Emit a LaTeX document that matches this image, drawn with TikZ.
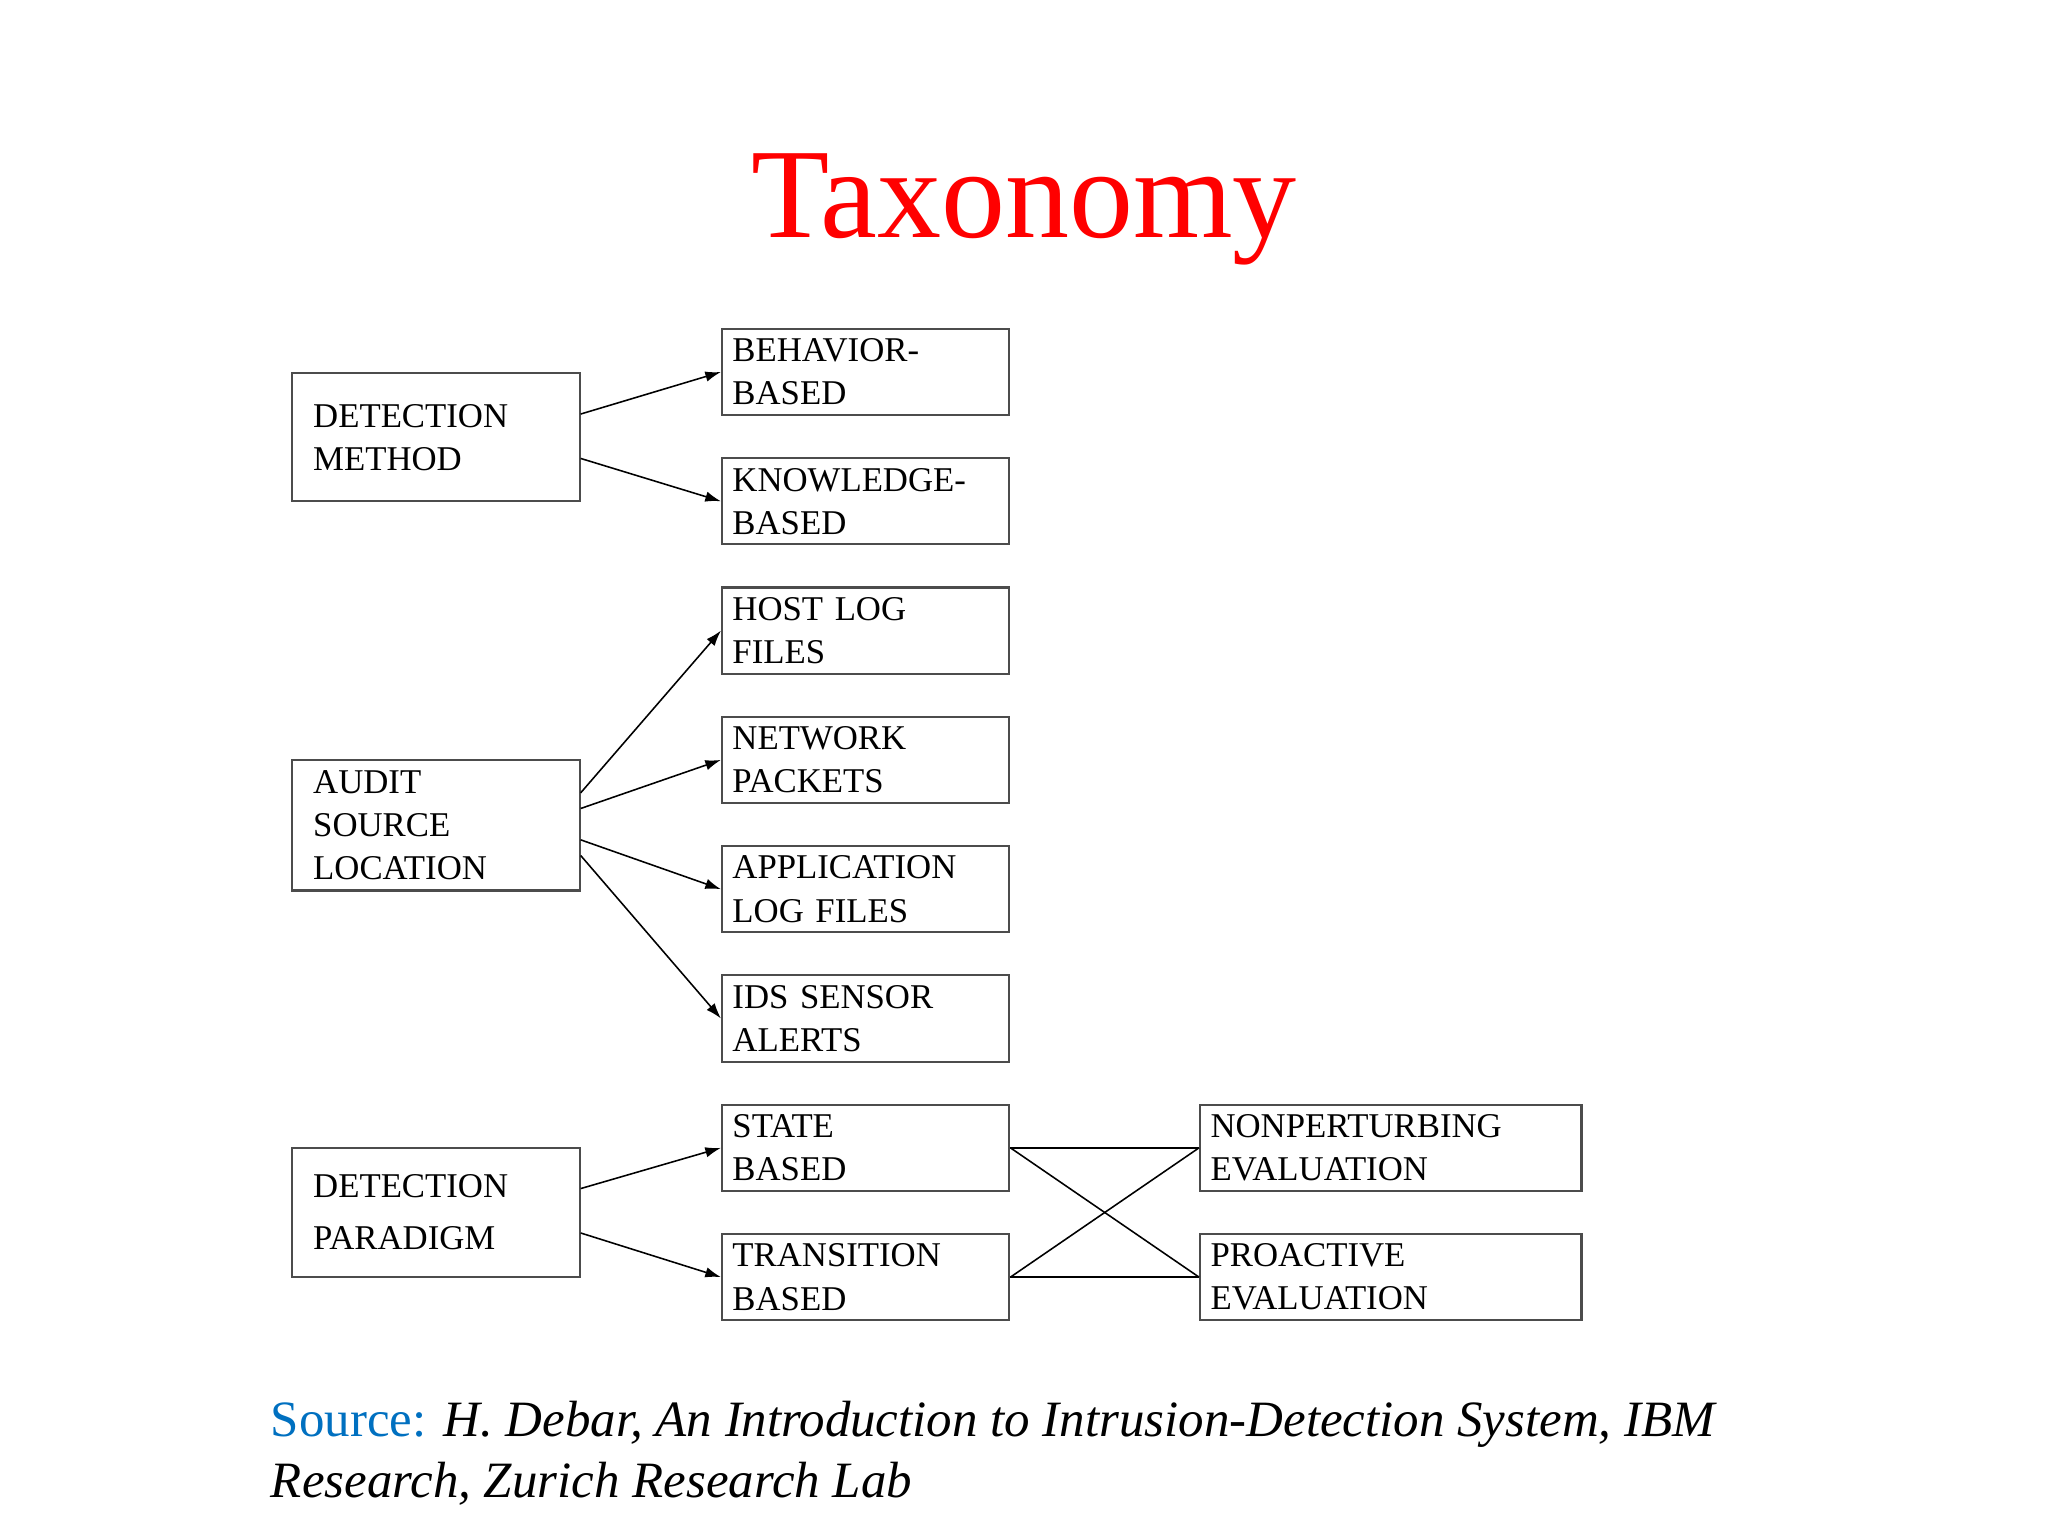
\documentclass[tikz,border=0pt]{standalone}
\usepackage{fontspec}
\setmainfont{Liberation Serif}
\usetikzlibrary{calc,arrows.meta}
\begin{document}
\begin{tikzpicture}[x=0.5pt,y=-0.5pt,
  box/.style={draw=black!70,line width=0.8pt,anchor=north west,inner sep=0pt,align=left,font=\fontsize{13.3}{16.5}\selectfont},
  arr/.style={-{Latex[length=6pt,width=4pt]},line width=0.6pt},
  ln/.style={line width=0.6pt}]
\useasboundingbox[fill=white] (0,0) rectangle (1568,1176);
\node[font=\fontsize{49}{56}\selectfont,text=red] (title) at (784,160) {Taxonomy};
% left boxes
\node[box,minimum width=110pt,minimum height=49pt,text width=94pt] (dm) at (223,285) {DETECTION\\METHOD};
\node[box,minimum width=110pt,minimum height=50pt,text width=94pt] (as) at (223,581) {AUDIT\\SOURCE\\LOCATION};
\node[box,minimum width=110pt,minimum height=49.5pt,text width=94pt,font=\fontsize{13.3}{20}\selectfont] (dp) at (223,878) {DETECTION\\PARADIGM};
% middle boxes
\foreach \n/\y/\a/\b in {beh/251/BEHAVIOR-/BASED, kno/350/KNOWLEDGE-/BASED, host/449/HOST LOG/FILES, net/548/NETWORK/PACKETS, app/647/APPLICATION/LOG FILES, ids/746/IDS SENSOR/ALERTS, st/845/STATE/BASED, tr/944/TRANSITION/BASED}
  \node[box,minimum width=110pt,minimum height=33pt,text width=106pt] (\n) at (552,\y) {\hspace*{2pt}\a\\\hspace*{2pt}\b};
\node[box,minimum width=146pt,minimum height=33pt,text width=142pt] (np) at (918,845) {\hspace*{2pt}NONPERTURBING\\\hspace*{2pt}EVALUATION};
\node[box,minimum width=146pt,minimum height=33pt,text width=142pt] (pr) at (918,944) {\hspace*{2pt}PROACTIVE\\\hspace*{2pt}EVALUATION};
% arrows
\draw[arr] ($(dm.north east)+(0,32)$) -- (beh.west);
\draw[arr] ($(dm.north east)+(0,66)$) -- (kno.west);
\draw[arr] ($(as.north east)+(0,26)$) -- (host.west);
\draw[arr] ($(as.north east)+(0,38)$) -- (net.west);
\draw[arr] ($(as.north east)+(0,62)$) -- (app.west);
\draw[arr] ($(as.north east)+(0,74)$) -- (ids.west);
\draw[arr] ($(dp.north east)+(0,32)$) -- (st.west);
\draw[arr] ($(dp.north east)+(0,66)$) -- (tr.west);
\draw[ln] (st.east) -- (np.west);
\draw[ln] (st.east) -- (pr.west);
\draw[ln] (tr.east) -- (pr.west);
\draw[ln] (tr.east) -- (np.west);
% source
\node[anchor=north west,align=left,inner sep=0pt,font=\fontsize{19.5}{23.5}\selectfont] (src) at (207,1072)
 {{\color[RGB]{0,112,192}Source:} \textit{H. Debar, An Introduction to Intrusion-Detection System, IBM}\\\textit{Research, Zurich Research Lab}};
\end{tikzpicture}
\end{document}
